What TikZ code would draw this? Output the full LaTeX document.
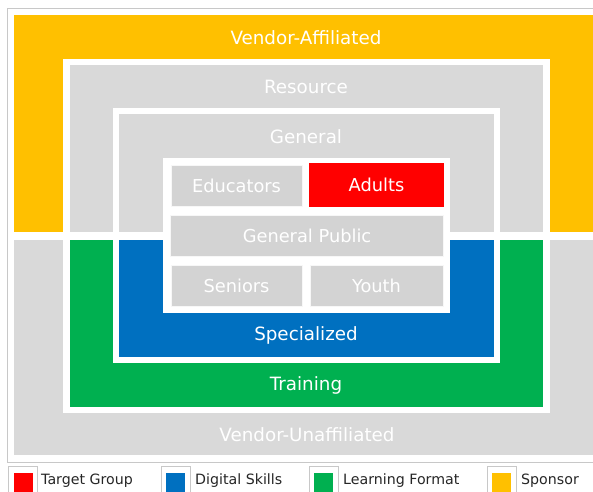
\documentclass[tikz,border=0pt]{standalone}
\usepackage{fontspec}
\setmainfont{DejaVu Sans}
\definecolor{ylw}{HTML}{FFC000}
\definecolor{rd}{HTML}{FF0000}
\definecolor{bl}{HTML}{0070C0}
\definecolor{gr}{HTML}{00B050}
\definecolor{gy}{HTML}{D9D9D9}
\definecolor{cellgy}{HTML}{D3D3D3}
\definecolor{frm}{HTML}{C8C8C8}
\begin{document}
\begin{tikzpicture}[x=1pt,y=-1pt,
  lbl/.style={text=white,font=\fontsize{18.3}{21}\selectfont,inner sep=0pt},
  cell/.style={inner sep=0pt,outer sep=0pt,text=white,font=\fontsize{17.8}{21}\selectfont,draw=white!80!gy,line width=0.6pt},
  legbox/.style={draw=frm,line width=0.8pt,fill=white,inner sep=0pt,minimum width=29pt,minimum height=30pt,anchor=north west},
  legsw/.style={inner sep=0pt,minimum width=19pt,minimum height=19pt,anchor=north west},
  legtxt/.style={anchor=west,inner sep=0pt,font=\fontsize{14.2}{16}\selectfont,text=black!85}]
\useasboundingbox (0,0) rectangle (593,491);
\clip (0,0) rectangle (593,491);
\fill[white] (0,0) rectangle (593,491);
% outer frame
\draw[frm,line width=0.8pt,fill=white] (7,8) rectangle (610,462);
% sponsor halves
\fill[ylw] (14,15) rectangle (610,232);
\fill[gy] (14,240) rectangle (610,455);
% resource / training
\fill[white] (63,59) rectangle (550,413);
\fill[gy] (70,65) rectangle (543,232);
\fill[gr] (70,240) rectangle (543,407);
% general / specialized
\fill[white] (113,108) rectangle (500,363);
\fill[gy] (119,114) rectangle (494,232);
\fill[bl] (119,240) rectangle (494,357);
% target group box
\fill[white] (163,158) rectangle (450,313);
\node[cell,fill=cellgy,minimum width=131pt,minimum height=41pt] (edu) at (236.5,185.5) {Educators};
\node[cell,fill=rd,draw=none,minimum width=135pt,minimum height=44pt] (adu) at (376.5,185) {Adults};
\node[cell,fill=cellgy,minimum width=273pt,minimum height=41pt] (gp) at (307,235.5) {General Public};
\node[cell,fill=cellgy,minimum width=131pt,minimum height=41pt] (sen) at (236.5,285.5) {Seniors};
\node[cell,fill=cellgy,minimum width=133pt,minimum height=41pt] (you) at (376.5,285.5) {Youth};
% labels
\node[lbl] (va) at (306,38) {Vendor-Affiliated};
\node[lbl] (res) at (306,87) {Resource};
\node[lbl] (gen) at (306,137) {General};
\node[lbl] (spe) at (306,335) {Specialized};
\node[lbl] (tra) at (306,385) {Training};
\node[lbl] (vu) at (307,435) {Vendor-Unaffiliated};
% legend
\node[legbox] (lb1) at (7.5,466) {};
\node[legsw,fill=rd] (ls1) at (14,473) {};
\node[legtxt] (lt1) at (41,481) {Target Group};
\node[legbox] (lb2) at (161,466) {};
\node[legsw,fill=bl] (ls2) at (166,473) {};
\node[legtxt] (lt2) at (195,481) {Digital Skills};
\node[legbox] (lb3) at (309,466) {};
\node[legsw,fill=gr] (ls3) at (314,473) {};
\node[legtxt] (lt3) at (343,481) {Learning Format};
\node[legbox] (lb4) at (487,466) {};
\node[legsw,fill=ylw] (ls4) at (492,473) {};
\node[legtxt] (lt4) at (521,481) {Sponsor};
\end{tikzpicture}
\end{document}
